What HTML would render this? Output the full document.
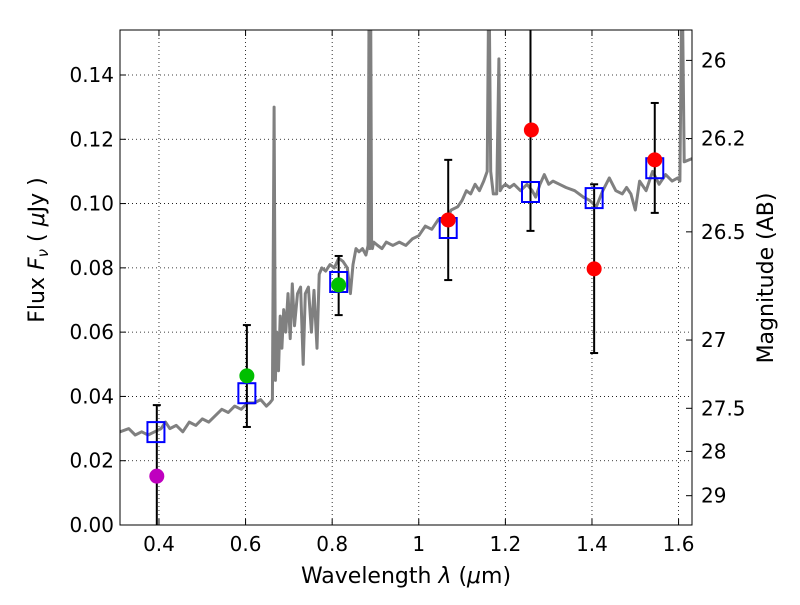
<!DOCTYPE html>
<html><head><meta charset="utf-8"><style>
body{margin:0;background:#fff}
svg text{font-family:"DejaVu Sans","Liberation Sans",sans-serif;font-size:20px;fill:#000}
svg text.title{font-size:22px}
</style></head><body>
<svg id="chart" width="800" height="600" xmlns="http://www.w3.org/2000/svg">
<defs><clipPath id="clip"><rect x="120" y="30" width="572" height="495"/></clipPath></defs>
<rect width="800" height="600" fill="#fff"/>
<g id="grid"></g>
<g id="spec" clip-path="url(#clip)"></g>
<g id="marks" clip-path="url(#clip)"></g>
<rect x="120" y="30" width="572" height="495" fill="none" stroke="#000" stroke-width="1"/>
<g id="axes"></g>
<text class="title" x="406" y="583" text-anchor="middle">Wavelength  <tspan font-style="italic">λ</tspan> (<tspan font-style="italic">μ</tspan>m)</text>
<text class="title" transform="translate(44,250) rotate(-90)" text-anchor="middle">Flux  <tspan font-style="italic">F<tspan font-size="15" dy="4">ν</tspan></tspan><tspan dy="-4">  (  </tspan><tspan font-style="italic">μ</tspan>Jy )</text>
<text class="title" transform="translate(773,278) rotate(-90)" text-anchor="middle">Magnitude (AB)</text>
</svg>
<script>
const xTicks=[0.4,0.6,0.8,1.0,1.2,1.4,1.6];
const xTickLabels=["0.4","0.6","0.8","1","1.2","1.4","1.6"];
const yTicks=[0,0.02,0.04,0.06,0.08,0.10,0.12,0.14];
const yTickLabels=["0.00","0.02","0.04","0.06","0.08","0.10","0.12","0.14"];
const magTicks=[26,26.2,26.5,27,27.5,28,29];
const magTickLabels=["26","26.2","26.5","27","27.5","28","29"];
const specWave=[0.31,0.33,0.345,0.36,0.375,0.39,0.405,0.415,0.425,0.44,0.455,0.47,0.485,0.5,0.515,0.53,0.545,0.56,0.575,0.59,0.605,0.62,0.635,0.648,0.656,0.662,0.666,0.669,0.672,0.676,0.68,0.684,0.688,0.693,0.698,0.703,0.708,0.713,0.72,0.727,0.733,0.738,0.745,0.752,0.758,0.765,0.77,0.776,0.785,0.795,0.805,0.815,0.825,0.835,0.842,0.848,0.855,0.862,0.87,0.878,0.883,0.885,0.887,0.889,0.891,0.893,0.896,0.905,0.915,0.925,0.94,0.955,0.97,0.985,1.0,1.015,1.03,1.045,1.06,1.075,1.09,1.1,1.11,1.12,1.13,1.14,1.15,1.158,1.162,1.166,1.172,1.18,1.185,1.188,1.192,1.2,1.21,1.22,1.235,1.25,1.262,1.27,1.28,1.29,1.3,1.31,1.325,1.34,1.36,1.38,1.395,1.41,1.425,1.44,1.455,1.47,1.48,1.49,1.5,1.51,1.525,1.54,1.555,1.57,1.585,1.598,1.603,1.608,1.613,1.631];
const specFlux=[0.029,0.030,0.028,0.029,0.028,0.029,0.030,0.032,0.030,0.031,0.029,0.032,0.031,0.033,0.032,0.034,0.036,0.035,0.037,0.036,0.038,0.038,0.039,0.037,0.038,0.039,0.130,0.045,0.060,0.048,0.065,0.055,0.067,0.060,0.072,0.058,0.075,0.062,0.072,0.074,0.050,0.072,0.074,0.060,0.073,0.055,0.078,0.080,0.079,0.081,0.080,0.083,0.082,0.080,0.072,0.081,0.086,0.085,0.086,0.084,0.087,0.160,0.086,0.160,0.087,0.086,0.088,0.087,0.086,0.088,0.087,0.088,0.087,0.089,0.090,0.093,0.092,0.095,0.094,0.098,0.099,0.101,0.104,0.103,0.106,0.104,0.107,0.110,0.175,0.110,0.103,0.103,0.145,0.104,0.105,0.106,0.105,0.106,0.104,0.106,0.104,0.102,0.106,0.109,0.106,0.107,0.106,0.105,0.104,0.102,0.101,0.099,0.104,0.108,0.104,0.103,0.105,0.103,0.098,0.107,0.104,0.110,0.106,0.109,0.107,0.108,0.107,0.175,0.113,0.114,0.114];
const modelWave=[0.393,0.603,0.815,1.068,1.258,1.405,1.545];
const modelFlux=[0.0289,0.041,0.0756,0.0924,0.1036,0.1017,0.111];
const errWave=[0.395,0.603,0.815,1.068,1.258,1.405,1.545];
const errLow=[-0.01,0.0305,0.0653,0.0762,0.0915,0.0535,0.0971];
const errHigh=[0.0373,0.0622,0.0837,0.1136,0.17,0.106,0.1313];
const redWave=[1.068,1.26,1.405,1.545];
const redFlux=[0.0949,0.1229,0.0797,0.1136];
const greenWave=[0.603,0.815];
const greenFlux=[0.0464,0.0747];
const magentaWave=[0.395];
const magentaFlux=[0.0152];

const X0=120,X1=692,Y0=525,Y1=30,XMIN=0.31,XMAX=1.631,YMIN=0,YMAX=0.154;
const sx=v=>X0+(v-XMIN)/(XMAX-XMIN)*(X1-X0);
const sy=v=>Y0-(v-YMIN)/(YMAX-YMIN)*(Y0-Y1);
const magToY=m=>sy(Math.pow(10,(23.9-m)/2.5));
const NS="http://www.w3.org/2000/svg";
function mk(tag,parent,attrs){const e=document.createElementNS(NS,tag);for(const k in attrs)e.setAttribute(k,attrs[k]);parent.appendChild(e);return e;}
const grid=document.getElementById('grid'),axes=document.getElementById('axes'),spec=document.getElementById('spec'),marks=document.getElementById('marks');
xTicks.forEach((t,i)=>{const x=sx(t);
 let g=mk('line',grid,{x1:x,x2:x,y1:Y1,y2:Y0,stroke:'#000','stroke-dasharray':'1,3','stroke-width':0.8});
 
 mk('line',axes,{x1:x,x2:x,y1:Y0,y2:Y0-6,stroke:'#000'});mk('line',axes,{x1:x,x2:x,y1:Y1,y2:Y1+6,stroke:'#000'});
 const tx=mk('text',axes,{x:x,y:Y0+26,'text-anchor':'middle'});tx.textContent=xTickLabels[i];
 });
yTicks.forEach((t,i)=>{const y=sy(t);
 let g=mk('line',grid,{x1:X0,x2:X1,y1:y,y2:y,stroke:'#000','stroke-dasharray':'1,3','stroke-width':0.8});
 
 mk('line',axes,{x1:X0,x2:X0+6,y1:y,y2:y,stroke:'#000'});
 const tx=mk('text',axes,{x:X0-6,y:y+7,'text-anchor':'end'});tx.textContent=yTickLabels[i];
 });
magTicks.forEach((m,i)=>{const y=magToY(m);
 mk('line',axes,{x1:X1,x2:X1-6,y1:y,y2:y,stroke:'#000'});
 const tx=mk('text',axes,{x:X1+9,y:y+7,'text-anchor':'start'});tx.textContent=magTickLabels[i];
 });
const pts=specWave.map((w,i)=>sx(w).toFixed(1)+','+sy(specFlux[i]).toFixed(1)).join(' ');
const pl=mk('polyline',spec,{points:pts,fill:'none',stroke:'#808080','stroke-width':3,'stroke-linejoin':'round'});

errWave.forEach((w,i)=>{const x=sx(w),y1=sy(errLow[i]),y2=sy(errHigh[i]);
 const l=mk('line',marks,{x1:x,x2:x,y1:y1,y2:y2,stroke:'#000','stroke-width':2});
 
 mk('line',marks,{x1:x-4,x2:x+4,y1:y1,y2:y1,stroke:'#000','stroke-width':2});
 mk('line',marks,{x1:x-4,x2:x+4,y1:y2,y2:y2,stroke:'#000','stroke-width':2});});
modelWave.forEach((w,i)=>{const r=mk('rect',marks,{x:sx(w)-8.5,y:sy(modelFlux[i])-10,width:17,height:20,fill:'none',stroke:'#0000ff','stroke-width':2});
 });
function dots(ws,fs,col,name){ws.forEach((w,i)=>{const c=mk('circle',marks,{cx:sx(w),cy:sy(fs[i]),r:7.5,fill:col});
 });}
dots(greenWave,greenFlux,'#00bf00','green-point');
dots(redWave,redFlux,'#ff0000','red-point');
dots(magentaWave,magentaFlux,'#bf00bf','magenta-point');
</script>
</body></html>
